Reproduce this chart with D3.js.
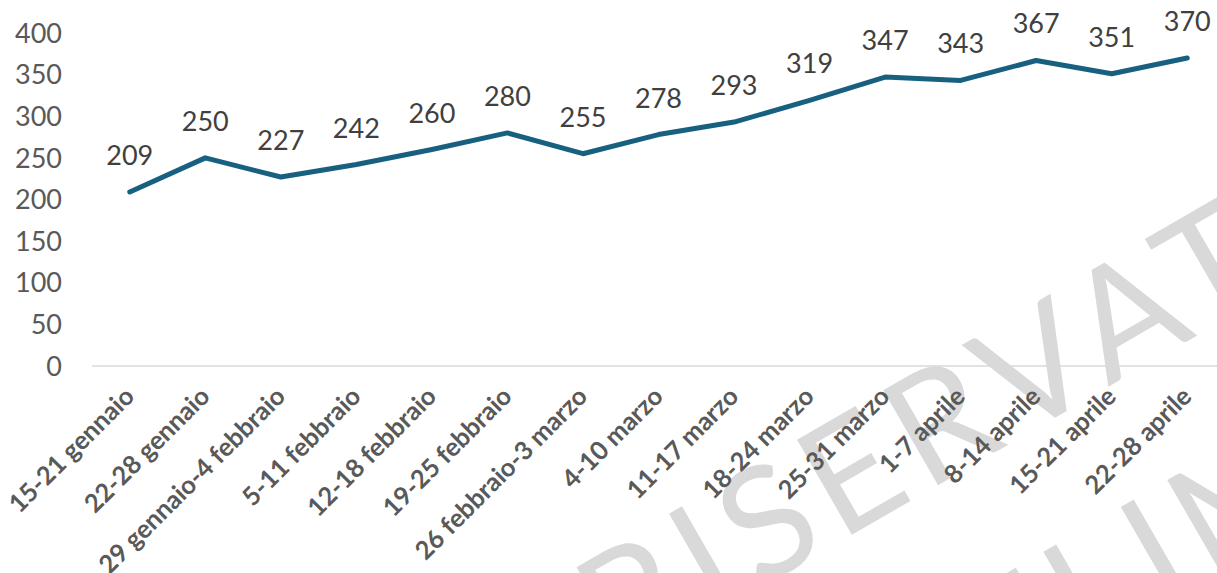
<!DOCTYPE html>
<html>
<head>
<meta charset="utf-8">
<script src="https://cdn.jsdelivr.net/npm/d3@7"></script>
<style>
  html, body { margin: 0; padding: 0; background: #fff; }
  svg { display: block; }
</style>
</head>
<body>
<svg id="chart"></svg>
<script>
// weekly periods and counts
var weeks = ["15-21 gennaio", "22-28 gennaio", "29 gennaio-4 febbraio", "5-11 febbraio",
  "12-18 febbraio", "19-25 febbraio", "26 febbraio-3 marzo", "4-10 marzo", "11-17 marzo",
  "18-24 marzo", "25-31 marzo", "1-7 aprile", "8-14 aprile", "15-21 aprile", "22-28 aprile"];
var counts = [209, 250, 227, 242, 260, 280, 255, 278, 293, 319, 347, 343, 367, 351, 370];
var yTicks = [0, 50, 100, 150, 200, 250, 300, 350, 400];
var watermark = ["RISERVATO", "PRELIMINARE"];

var width = 1217,
    height = 573;

var svg = d3.select("#chart")
    .attr("width", width)
    .attr("height", height);

// watermark behind everything, frame origin sits at the foot of the "A"
var wmSize = 153;
var wm = svg.append("g")
    .attr("transform", "translate(1108,387) rotate(-30)");

var wm1 = wm.append("text")
    .attr("font-family", "Lato")
    .attr("font-size", wmSize)
    .attr("fill", "#d9d9d9")
    .text(watermark[0]);
// stretch the word so the "I" stem lands 436px before the "A"
var n1 = wm1.node();
var posI = n1.getStartPositionOfChar(1).x,
    advI = n1.getSubStringLength(1, 1),
    posA = n1.getStartPositionOfChar(6).x;
var ls = (436 - (posA - posI - advI / 2)) / 5;
wm1.attr("letter-spacing", ls)
    .attr("x", -(posA + 6 * ls))
    .attr("y", 0);

var wm2 = wm.append("text")
    .attr("font-family", "Lato")
    .attr("font-size", wmSize)
    .attr("fill", "#d9d9d9")
    .attr("letter-spacing", ls)
    .text(watermark[1]);
var posL = wm2.node().getStartPositionOfChar(3).x;
wm2.attr("x", -102 - (posL + 3 * ls + 0.115 * wmSize))
    .attr("y", 220);

var x = d3.scalePoint()
    .domain(weeks)
    .range([92, 1225])
    .padding(0.5);

var y = d3.scaleLinear()
    .domain([0, 400])
    .range([366, 33]);

// y tick labels
svg.append("g")
    .selectAll("text")
    .data(yTicks)
    .enter()
    .append("text")
    .attr("x", 62)
    .attr("y", function(d){ return y(d); })
    .attr("dy", "0.36em")
    .style("text-anchor", "end")
    .attr("font-family", "Lato")
    .attr("font-size", 27)
    .attr("fill", "#595959")
    .text(function(d){ return d; });

// baseline
svg.append("line")
    .attr("x1", 92)
    .attr("x2", width)
    .attr("y1", y(0))
    .attr("y2", y(0))
    .attr("stroke", "#d9d9d9")
    .attr("stroke-width", 1.5);

// x labels, rotated
svg.append("g")
    .selectAll("text")
    .data(weeks)
    .enter()
    .append("text")
    .attr("transform", function(d){
        return "translate(" + (x(d) + 6) + ",398) rotate(-45)";
    })
    .style("text-anchor", "end")
    .attr("font-family", "Lato")
    .attr("font-weight", "bold")
    .attr("font-size", 25.5)
    .attr("fill", "#595959")
    .text(function(d){ return d; });

var line = d3.line()
    .x(function(d, i){ return x(weeks[i]); })
    .y(function(d){ return y(d); });

svg.append("path")
    .datum(counts)
    .attr("d", line)
    .attr("fill", "none")
    .attr("stroke", "#186080")
    .attr("stroke-width", 5)
    .attr("stroke-linejoin", "round")
    .attr("stroke-linecap", "round");

// data labels
svg.append("g")
    .selectAll("text")
    .data(counts)
    .enter()
    .append("text")
    .attr("x", function(d, i){ return x(weeks[i]); })
    .attr("y", function(d){ return y(d) - 27; })
    .style("text-anchor", "middle")
    .attr("font-family", "Lato")
    .attr("font-size", 27)
    .attr("fill", "#404040")
    .text(function(d){ return d; });
</script>
</body>
</html>
